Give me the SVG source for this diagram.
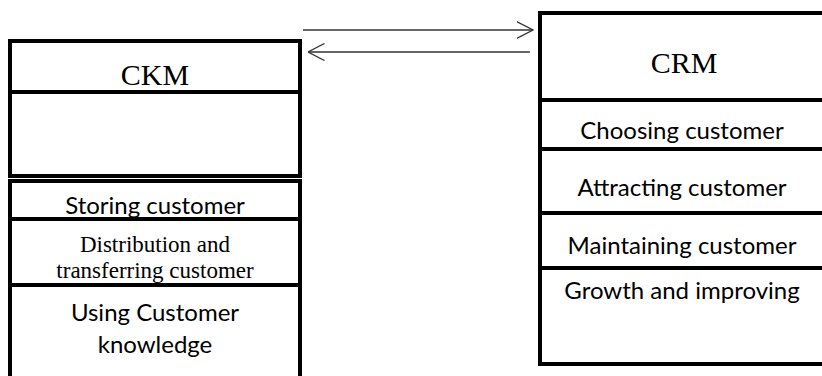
<svg xmlns="http://www.w3.org/2000/svg" width="822" height="376" viewBox="0 0 822 376">
<defs>
<style>
.box{fill:#fff;stroke:#000;stroke-width:4}
.serif{font-family:"Liberation Serif","Times New Roman",serif;fill:#000;text-anchor:middle}
.sans{font-family:Lato,"Noto Sans",sans-serif;fill:#000;text-anchor:middle;font-size:24px}
.conn{stroke:#333;stroke-width:1.3;fill:none}
</style>
<marker id="arr" viewBox="0 0 17 18" refX="16.5" refY="9" markerWidth="17" markerHeight="18" markerUnits="userSpaceOnUse" orient="auto">
<path d="M0,0.5 L16.5,9 L0,17.5" fill="none" stroke="#333" stroke-width="1.3"/>
</marker>
</defs>
<rect width="822" height="376" fill="#fff"/>
<g id="ckm">
<g id="ckm-header"><rect class="box" x="10" y="41" width="290" height="51"/><text class="serif" x="155" y="85" font-size="30">CKM</text></g>
<g id="ckm-empty"><rect class="box" x="10" y="92" width="290" height="84"/></g>
<g id="ckm-storing"><rect class="box" x="10" y="181" width="290" height="38"/><text class="sans" x="155" y="214">Storing customer</text></g>
<g id="ckm-distribution"><rect class="box" x="10" y="219" width="290" height="66"/><text class="serif" x="155" y="252" font-size="23">Distribution and</text><text class="serif" x="155" y="278" font-size="23">transferring customer</text></g>
<g id="ckm-using"><rect class="box" x="10" y="285" width="290" height="100"/><text class="sans" x="155" y="321">Using Customer</text><text class="sans" x="155" y="353">knowledge</text></g>
</g>
<g id="crm">
<g id="crm-header"><rect class="box" x="540" y="13" width="300" height="87"/><text class="serif" x="684" y="73" font-size="30">CRM</text></g>
<g id="crm-choosing"><rect class="box" x="540" y="100" width="300" height="49"/><text class="sans" x="682" y="139">Choosing customer</text></g>
<g id="crm-attracting"><rect class="box" x="540" y="149" width="300" height="64"/><text class="sans" x="682" y="196">Attracting customer</text></g>
<g id="crm-maintaining"><rect class="box" x="540" y="213" width="300" height="55"/><text class="sans" x="682" y="254">Maintaining customer</text></g>
<g id="crm-growth"><rect class="box" x="540" y="268" width="300" height="96"/><text class="sans" x="682" y="299">Growth and improving</text></g>
</g>
<g id="connectors">
<line class="conn" x1="303" y1="30" x2="533" y2="30" marker-end="url(#arr)"/>
<line class="conn" x1="530" y1="52" x2="308" y2="52" marker-end="url(#arr)"/>
</g>
</svg>
